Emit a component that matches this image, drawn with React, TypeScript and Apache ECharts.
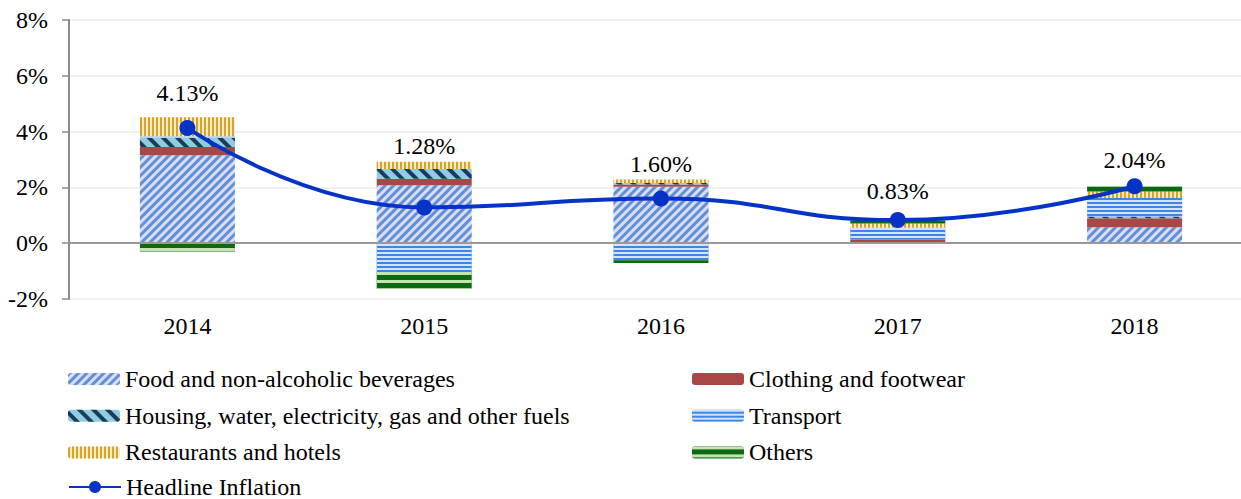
import React, { useEffect, useRef } from "react";
import * as echarts from "echarts";

const years = ["2014", "2015", "2016", "2017", "2018"];
const food = [3.15, 2.08, 2.02, 0, 0.57];
const clothing = [0.3, 0.23, 0.08, 0.13, 0.32];
const housing = [0.33, 0.35, 0.06, 0, 0.07];
const transport = [0.05, -1.03, -0.61, 0.42, 0.66];
const restaurants = [0.68, 0.26, 0.12, 0.16, 0.23];
const others = [-0.3, -0.6, -0.1, 0.1, 0.18];
const headline = [4.13, 1.28, 1.6, 0.83, 2.04];

// how far (px) each data label's centre sits above its point (label placement style)
const labelRise = [36, 62, 36, 30, 27];

const FONT = "Liberation Serif";
const FS = 24;

export default function App() {
  const ref = useRef<HTMLDivElement>(null);
  useEffect(() => {
    if (!ref.current) return;
    document.body.style.overflow = "hidden";
    const chart = echarts.init(ref.current, null, { renderer: "svg" });
    const barBase = {
      type: "bar",
      stack: "cpi",
      barWidth: 95,
    };
    const legendText = { fontFamily: FONT, fontSize: FS, color: "#000", lineHeight: 24 };
    const legendBase = {
      orient: "vertical",
      itemWidth: 52,
      itemHeight: 12,
      itemGap: 12.7,
      padding: 0,
      textStyle: legendText,
    };
    chart.setOption({
      animation: false,
      textStyle: { fontFamily: FONT },
      grid: { left: 69, top: 20, right: 0, bottom: 200, containLabel: false },
      legend: [
        {
          ...legendBase,
          left: 68,
          top: 367,
          data: [
            "Food and non-alcoholic beverages",
            "Housing, water, electricity, gas and other fuels",
            "Restaurants and hotels",
          ],
        },
        {
          ...legendBase,
          left: 68,
          top: 475,
          itemHeight: 15,
          data: ["Headline Inflation"],
        },
        {
          ...legendBase,
          left: 692,
          top: 367,
          data: ["Clothing and footwear", "Transport", "Others"],
        },
      ],
      xAxis: {
        type: "category",
        data: years,
        axisLine: { show: false },
        axisTick: { show: false },
        axisLabel: { fontFamily: FONT, fontSize: FS, color: "#000", margin: 15 },
      },
      yAxis: {
        type: "value",
        min: -2,
        max: 8,
        interval: 2,
        axisLine: { show: true, lineStyle: { color: "#8c8c8c", width: 2 } },
        axisTick: { show: true, length: 7, lineStyle: { color: "#8c8c8c", width: 1.5 } },
        axisLabel: { fontFamily: FONT, fontSize: FS, color: "#000", margin: 21, formatter: "{value}%" },
        splitLine: { lineStyle: { color: "#ececec", width: 1.5 } },
      },
      series: [
        {
          ...barBase,
          name: "Food and non-alcoholic beverages",
          data: food,
          itemStyle: {
            color: "#dcdcf2",
            decal: {
              symbol: "rect",
              symbolSize: 1,
              color: "#6090da",
              dashArrayX: [1, 0],
              dashArrayY: [3, 3],
              rotation: -Math.PI / 4,
            },
          },
          markLine: {
            silent: true,
            symbol: ["none", "none"],
            label: { show: false },
            lineStyle: { color: "#999", width: 2, type: "solid" },
            data: [{ yAxis: 0 }],
          },
        },
        {
          ...barBase,
          name: "Clothing and footwear",
          data: clothing,
          itemStyle: { color: "#a84846" },
        },
        {
          ...barBase,
          name: "Housing, water, electricity, gas and other fuels",
          data: housing,
          itemStyle: {
            color: "#8ecde0",
            decal: {
              symbol: "rect",
              symbolSize: 1,
              color: "#1b3a5e",
              dashArrayX: [1, 0],
              dashArrayY: [4, 6],
              rotation: Math.PI / 4,
            },
          },
        },
        {
          ...barBase,
          name: "Transport",
          data: transport,
          itemStyle: {
            color: "#3d85ea",
            decal: {
              symbol: "rect",
              symbolSize: 1,
              color: "#d4e5fb",
              dashArrayX: [1, 0],
              dashArrayY: [2, 2],
              rotation: 0,
            },
          },
        },
        {
          ...barBase,
          name: "Restaurants and hotels",
          data: restaurants,
          itemStyle: {
            color: "#f8ead0",
            decal: {
              symbol: "rect",
              symbolSize: 1,
              color: "#d9a41e",
              dashArrayX: [2, 2],
              dashArrayY: [1, 0],
              rotation: 0,
            },
          },
        },
        {
          ...barBase,
          name: "Others",
          data: others,
          itemStyle: {
            color: "#0b6a12",
            decal: {
              symbol: "rect",
              symbolSize: 1,
              color: "#c8e2b4",
              dashArrayX: [1, 0],
              dashArrayY: [3, 5],
              rotation: 0,
            },
          },
        },
        {
          type: "line",
          name: "Headline Inflation",
          data: headline.map((v, i) => ({
            value: v,
            label: { offset: [0, -(labelRise[i] - 21)] },
          })),
          smooth: 0.5,
          z: 10,
          symbol: "circle",
          symbolSize: 16,
          lineStyle: { color: "#0533c8", width: 4 },
          itemStyle: { color: "#0533c8" },
          label: {
            show: true,
            position: "top",
            distance: 0,
            fontFamily: FONT,
            fontSize: FS,
            color: "#000",
            formatter: (p: any) => Number(p.value).toFixed(2) + "%",
          },
        },
      ],
    });
    return () => chart.dispose();
  }, []);
  return (
    <div
      ref={ref}
      style={{ position: "absolute", left: 0, top: 0, width: 1253, height: 499 }}
    />
  );
}
